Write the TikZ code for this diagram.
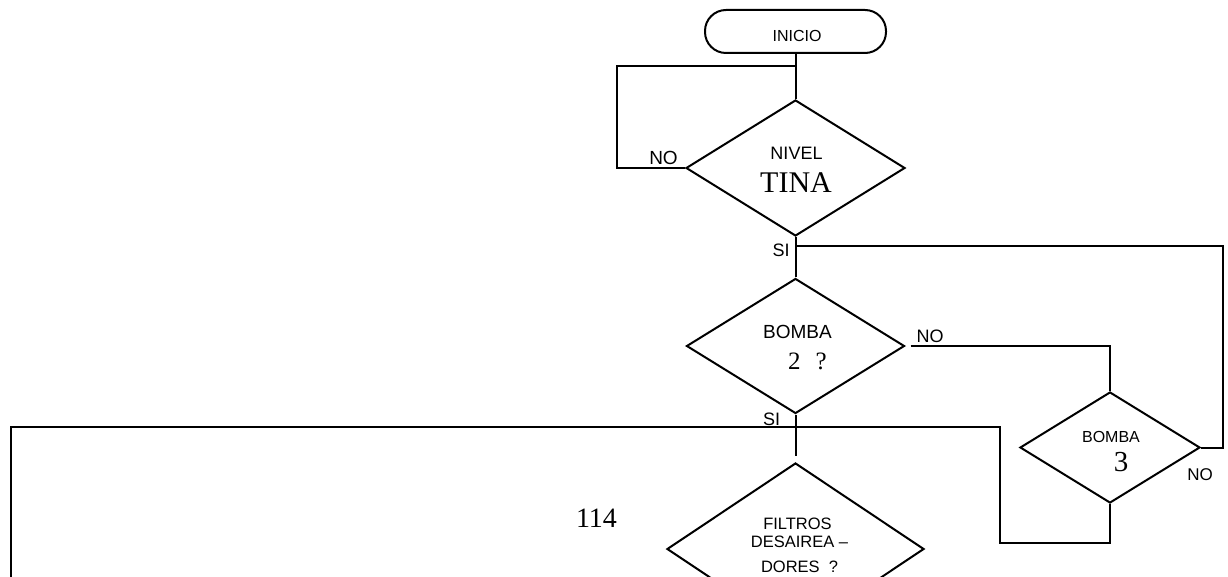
\documentclass[tikz,border=0pt]{standalone}
\usepackage{fontspec}
\setmainfont{Liberation Sans}
\newfontfamily\numfont{Liberation Serif}
\usetikzlibrary{shapes.geometric}

\newcommand{\fsz}[1]{\fontsize{#1}{#1}\selectfont}

\begin{document}
\begin{tikzpicture}[x=1pt, y=-1pt, line width=2pt,
    decision/.style={draw, diamond, inner sep=0pt},
    lbl/.style={inner sep=0pt, font=\fsz{18}}]
      \useasboundingbox (0,0) rectangle (1228,577);
      \clip (0,0) rectangle (1228,577);

      % shapes
      \node[draw, rounded corners=21pt, minimum width=181pt, minimum height=43pt, inner sep=0pt,
            label={[inner sep=0pt, xshift=1.5pt, yshift=-4.5pt, font=\fsz{16}]center:INICIO}]
            (inicio) at (795.5,31.5) {};
      \node[decision, minimum width=219pt, minimum height=136pt] (tina) at (795.5,168) {};
      \node[decision, minimum width=218pt, minimum height=135pt] (bomba2) at (795.5,346) {};
      \node[decision, minimum width=180pt, minimum height=111pt] (bomba3) at (1110,447.5) {};
      \node[decision, minimum width=257pt, minimum height=172pt] (filtros) at (795.5,549) {};

      \coordinate (j1) at (795.5,66);
      \coordinate (j2) at (795.5,246);
      \coordinate (j3) at (795.5,427);

      % texts
      \node[lbl] (tinaA) at (796.5,153.5) {NIVEL};
      \node[lbl, font=\numfont\fsz{30}] (tinaB) at (796,183) {TINA};
      \node[lbl, font=\fsz{19}] (bomba2A) at (797.5,331.5) {BOMBA};
      \node[lbl, font=\numfont\fsz{25}] (bomba2B) at (807.5,361.5) {2\hspace{0.6em}?};
      \node[lbl, font=\fsz{16}] (bomba3A) at (1111,437) {BOMBA};
      \node[lbl, font=\numfont\fsz{29}] (bomba3B) at (1121,462) {3};
      \node[lbl, font=\fsz{16.5}] (filtrosA) at (797.5,524) {FILTROS};
      \node[lbl, font=\fsz{16.5}] (filtrosB) at (799.5,542) {DESAIREA --};
      \node[lbl, font=\fsz{16.5}] (filtrosC) at (799.5,567) {DORES\ \ ?};
      \node[lbl, font=\numfont\fsz{28}] (page) at (596.5,518) {114};

      \node[lbl, font=\fsz{19}] (no1) at (663.5,157.5) {NO};
      \node[lbl] (si1) at (781,250) {SI};
      \node[lbl] (no2) at (930,336) {NO};
      \node[lbl] (si2) at (771.5,419.5) {SI};
      \node[lbl, font=\fsz{17}] (no3) at (1200,474.5) {NO};

      % connectors
      \draw (inicio) -- (tina);
      \draw (tina.west) -- ++(-68,0) |- (j1);
      \draw (tina) -- (bomba2);
      \draw (j2) -- ++(427,0) |- (bomba3.east);
      \draw ([xshift=5pt]bomba2.east) -| (bomba3.north);
      \draw[shorten >=6pt] (bomba2) -- (filtros.north);
      \draw (bomba3.south) |- ++(-110,39) |- (j3);
      \draw (j3) -| ++(-785,150);
\end{tikzpicture}
\end{document}
